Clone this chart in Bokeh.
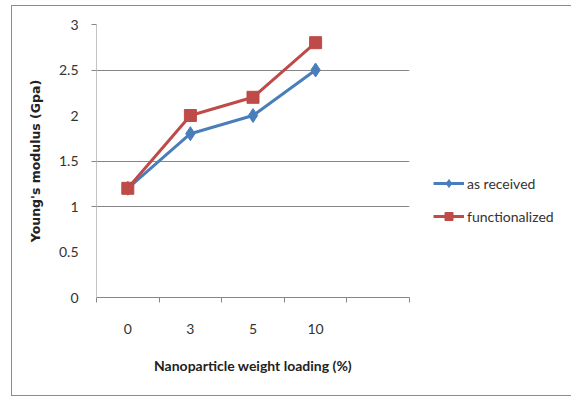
from bokeh.plotting import figure
from bokeh.models import FixedTicker, Range1d, Legend, LegendItem
from bokeh.embed import file_html
from bokeh.resources import INLINE

# ---- data ----
categories = ["0", "3", "5", "10"]
n_slots = 5  # Excel category slots (last one empty)
as_received = [1.2, 1.8, 2.0, 2.5]
functionalized = [1.2, 2.0, 2.2, 2.8]
y_ticks = [0, 0.5, 1, 1.5, 2, 2.5, 3]
y_grid = [1, 1.5, 2.5, 3]

x_pos = [i + 0.5 for i in range(len(categories))]

FONT = "Lato"
BLUE = "#4a7ebb"
RED = "#be4b48"

p = figure(frame_width=313, frame_height=273, output_backend="svg", toolbar_location=None,
           x_range=Range1d(0, n_slots), y_range=Range1d(0, 3),
           min_border_left=84, min_border_right=165, min_border_top=18, min_border_bottom=98)
p.styles = {"margin-left": "11px", "margin-top": "5px", "border": "1.5px solid #8c8c8c"}
p.outline_line_color = None
p.background_fill_color = "white"
p.border_fill_color = "white"

# x axis
p.xaxis.ticker = FixedTicker(ticks=x_pos, minor_ticks=list(range(n_slots + 1)))
p.xaxis.major_label_overrides = {x: c for x, c in zip(x_pos, categories)}
p.xaxis.major_tick_line_color = None
p.xaxis.major_tick_out = 0
p.xaxis.minor_tick_out = 5
p.xaxis.minor_tick_in = 0
p.xaxis.minor_tick_line_color = "#868686"
p.xaxis.axis_line_color = "#868686"
p.xaxis.major_label_standoff = 21
p.xaxis.axis_label = "Nanoparticle weight loading (%)"
p.xaxis.axis_label_standoff = 20
p.xgrid.visible = False

# y axis
p.yaxis.ticker = FixedTicker(ticks=y_ticks, minor_ticks=y_grid)
p.yaxis.major_tick_line_color = None
p.yaxis.major_tick_out = 0
p.yaxis.minor_tick_out = 5
p.yaxis.minor_tick_in = 0
p.yaxis.minor_tick_line_color = "#868686"
p.yaxis.axis_line_color = "#c4c4c4"
p.yaxis.major_label_standoff = 13
p.yaxis.major_label_overrides = {0: "0", 1: "1", 2: "2", 3: "3"}
p.yaxis.axis_label = "Young's modulus (Gpa)"
p.yaxis.axis_label_standoff = 13
p.ygrid.ticker = FixedTicker(ticks=y_grid)
p.ygrid.grid_line_color = "#868686"

for ax in (p.xaxis, p.yaxis):
    ax.major_label_text_font = FONT
    ax.major_label_text_font_size = "14px"
    ax.major_label_text_color = "#333333"
    ax.axis_label_text_font_size = "14px"
    ax.axis_label_text_font_style = "bold"
    ax.axis_label_text_color = "#222222"
p.xaxis.axis_label_text_font = FONT
p.yaxis.axis_label_text_font = "DejaVu Sans"
p.yaxis.axis_label_text_font_size = "12.5px"

l1 = p.line(x_pos, as_received, line_color=BLUE, line_width=3)
m1 = p.scatter(x_pos, as_received, marker="diamond", size=14, fill_color=BLUE, line_color=BLUE)
l2 = p.line(x_pos, functionalized, line_color=RED, line_width=3)
m2 = p.scatter(x_pos, functionalized, marker="square", size=12, fill_color=RED, line_color=RED)

legend = Legend(items=[LegendItem(label="as received", renderers=[l1, m1]),
                       LegendItem(label="functionalized", renderers=[l2, m2])],
                location=(24, 71), orientation="vertical",
                glyph_width=31, glyph_height=20, label_height=20, label_standoff=3,
                spacing=13, padding=0, margin=0, border_line_color=None,
                background_fill_alpha=0,
                label_text_font=FONT, label_text_font_size="14px", label_text_color="#333333")
p.add_layout(legend, "right")

open("out.html", "w").write(file_html(p, INLINE))
